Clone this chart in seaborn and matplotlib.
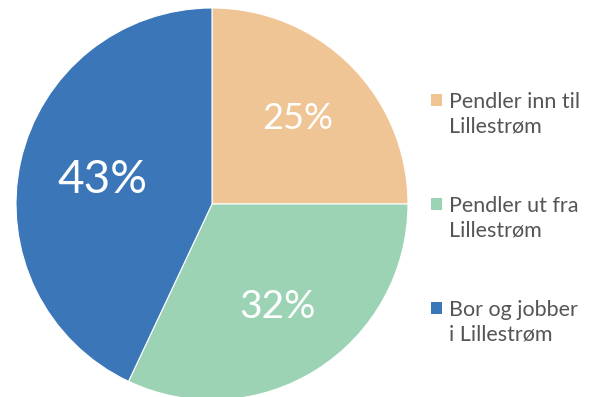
import matplotlib
matplotlib.use("Agg")
import matplotlib.pyplot as plt
import seaborn as sns
from matplotlib.patches import Patch, Rectangle
from matplotlib.legend_handler import HandlerPatch

categories = ["Pendler inn til\nLillestrøm", "Pendler ut fra\nLillestrøm", "Bor og jobber\ni Lillestrøm"]
values = [25, 32, 43]
colors = ["#F0C595", "#9DD3B5", "#3A76B8"]
label_sizes = [26, 28, 33]

sns.set_style("white")
plt.rcParams['font.family'] = ['Lato', 'DejaVu Sans']

fig = plt.figure(figsize=(5.9, 3.97), dpi=100)
ax = fig.add_axes([16/590, -3/397, 392/590, 392/397])

wedges, texts, autotexts = ax.pie(
    values, colors=colors, startangle=90, counterclock=False,
    autopct=lambda p: f"{p:.0f}%", pctdistance=0.62,
    wedgeprops=dict(edgecolor="white", linewidth=0.8),
)
for t, s in zip(autotexts, label_sizes):
    t.set_color("white")
    t.set_fontsize(s)
x2, y2 = autotexts[2].get_position()
autotexts[2].set_position((x2 * 0.92, y2 * 0.92))
ax.set_xlim(-1.0, 1.0)
ax.set_ylim(-1.0, 1.0)
ax.set_aspect("equal")


def top_square(legend, orig_handle, xdescent, ydescent, width, height, fontsize):
    return Rectangle((-xdescent, -ydescent + 0.68 * fontsize), width, height)


fs = 15.5
handles = [Patch(facecolor=c, edgecolor="none") for c in colors]
leg = fig.legend(handles, categories, loc="center left", bbox_to_anchor=(412/590, 0.45),
                 frameon=False, fontsize=fs, labelcolor="#555555",
                 handlelength=0.5, handleheight=0.5, handletextpad=0.33,
                 labelspacing=2.75,
                 handler_map={Patch: HandlerPatch(patch_func=top_square)})
for t in leg.get_texts():
    t.set_linespacing(1.3)

fig.savefig("out.png", dpi=100)
